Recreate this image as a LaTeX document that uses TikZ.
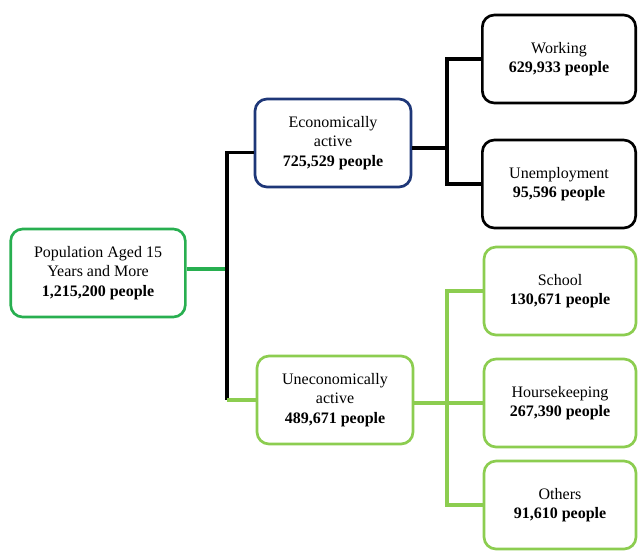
\documentclass[tikz,border=0pt]{standalone}
\usepackage{fontspec}
\setmainfont{Liberation Serif}
\usetikzlibrary{calc}
\definecolor{PopGreen}{RGB}{40,175,80}
\definecolor{EcoBlue}{RGB}{30,55,120}
\definecolor{UnecoGreen}{RGB}{140,205,80}

\begin{document}
\begin{tikzpicture}[x=0.75pt,y=-0.75pt, link/.style={line width=2.6pt}]
				\tikzstyle{every node}=[draw, shape=rectangle, rounded corners=9pt, line width=2pt, align=center, font=\fontsize{12}{14.5}\selectfont, minimum height=66pt, fill=white];
				\useasboundingbox (0,0) rectangle (638,550);
				\node [draw=PopGreen, minimum width=131pt] (root) at (98,273) {Population Aged 15\\Years and More\\\textbf{1,215,200 people}};
				\node [draw=EcoBlue, minimum width=117pt] (n01) at (333,143) {Economically\\active\\\textbf{725,529 people}};
				\node [draw=UnecoGreen, minimum width=117pt] (n02) at (335,400) {Uneconomically\\active\\\textbf{489,671 people}};
				\node [draw=black, minimum width=115pt] (n11) at (559,59) {Working\\\textbf{629,933 people}};
				\node [draw=black, minimum width=115pt] (n12) at (559,184) {Unemployment\\\textbf{95,596 people}};
				\node [draw=UnecoGreen, minimum width=114pt] (n21) at (560,291) {School\\\textbf{130,671 people}};
				\node [draw=UnecoGreen, minimum width=114pt] (n22) at (560,403) {Hoursekeeping\\\textbf{267,390 people}};
				\node [draw=UnecoGreen, minimum width=114pt] (n23) at (560,505) {Others\\\textbf{91,610 people}};
				\coordinate (b0) at (227,269);
				\coordinate (b1) at (447,148);
				\coordinate (b2) at (447,403);
				\draw[link, PopGreen] (root.east |- b0) -- (b0);
				\draw[link, black] ([yshift=-7pt]n01.west) -| (b0 |- n02.west);
				\draw[link, UnecoGreen] (n02.west) -- (b0 |- n02.west);
				\draw[link, black] (n01.east |- b1) -- (b1);
				\draw[link, black] (n11) -| (b1) |- (n12);
				\draw[link, UnecoGreen] (n02.east |- b2) -- (b2);
				\draw[link, UnecoGreen] (n21) -| (b2) |- (n23);
				\draw[link, UnecoGreen] (n22) -- (b2);
			\end{tikzpicture}
\end{document}
